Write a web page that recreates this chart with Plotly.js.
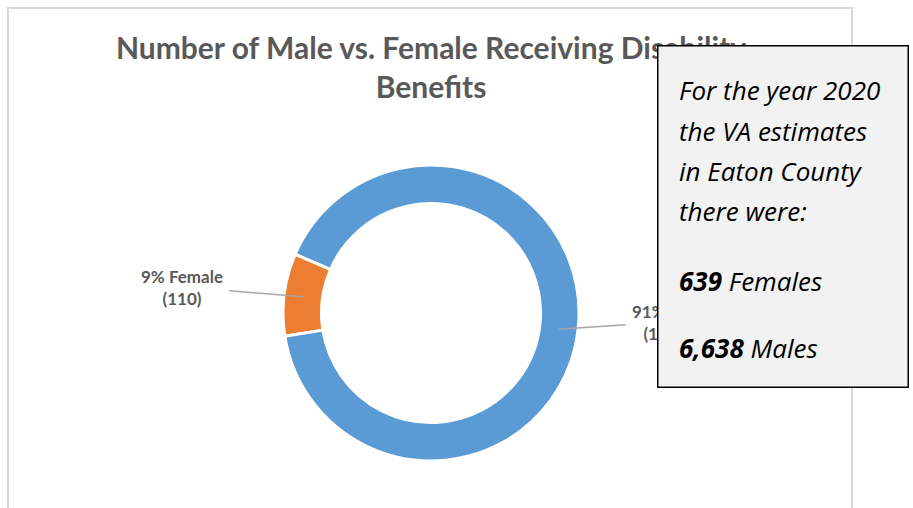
<!DOCTYPE html>
<html>
<head>
<meta charset="utf-8">
<script src="https://cdn.plot.ly/plotly-3.0.1.min.js"></script>
<style>
  html, body { margin: 0; padding: 0; background: #fff; }
  #chart { width: 913px; height: 508px; }
</style>
</head>
<body>
<div id="chart"></div>
<script>
// data
var labels = ["Female", "Male"];
var values = [110, 1112];
var colors = ["#ED7D31", "#5B9BD5"];
var noteYear = "2020";
var noteCounty = "Eaton County";
var noteFemales = "639";
var noteMales = "6,638";

var W = 913, H = 508;
function X(px) { return px / W; }
function Y(py) { return 1 - py / H; }

// donut placement in pixels
var cx = 431, cy = 313, R = 148;
var hole = 0.74;
var rotation = 261;

var total = values.reduce(function (a, b) { return a + b; }, 0);

// point inside each slice for the leader lines, from the values
var pts = [];
var acc = 0;
for (var i = 0; i < values.length; i++) {
  var mid = (rotation + (acc + values[i] / 2) / total * 360) * Math.PI / 180;
  acc += values[i];
  var r = R * (1 + hole) / 2;
  pts.push({ x: cx + r * Math.sin(mid), y: cy - r * Math.cos(mid) });
}

function pct(v) { return Math.round(v / total * 100) + "%"; }
function fmt(v) { return v.toLocaleString("en-US"); }

var labelPos = [{ x: 182, y: 287 }, { x: 670, y: 322 }];

var annotations = [];
for (var j = 0; j < labels.length; j++) {
  annotations.push({
    xref: "paper", yref: "paper",
    x: X(pts[j].x), y: Y(pts[j].y),
    axref: "pixel", ayref: "pixel",
    ax: labelPos[j].x - pts[j].x, ay: labelPos[j].y - pts[j].y,
    text: "<b>" + pct(values[j]) + " " + labels[j] + "</b><br><b>(" + fmt(values[j]) + ")</b>",
    showarrow: true, arrowhead: 0, arrowwidth: 1.5, arrowcolor: "#a6a6a6",
    font: { family: "Lato, sans-serif", size: 17, color: "#595959" },
    align: "center", borderpad: 6
  });
}

// note box covering the right side
annotations.push({
  xref: "paper", yref: "paper", x: X(783), y: Y(216),
  xanchor: "center", yanchor: "middle",
  text: " ", showarrow: false,
  width: 249, height: 340,
  bgcolor: "#f2f2f2", bordercolor: "#000000", borderwidth: 1.5, borderpad: 0
});

var noteLines = [
  { t: "<i>For the year " + noteYear + "</i>", y: 99 },
  { t: "<i>the VA estimates</i>", y: 140 },
  { t: "<i>in " + noteCounty + "</i>", y: 180 },
  { t: "<i>there were:</i>", y: 220 },
  { t: "<i><b>" + noteFemales + "</b> Females</i>", y: 290 },
  { t: "<i><b>" + noteMales + "</b> Males</i>", y: 357 }
];
noteLines.forEach(function (l) {
  annotations.push({
    xref: "paper", yref: "paper", x: X(677), y: Y(l.y - 9),
    xanchor: "left", yanchor: "middle",
    text: l.t, showarrow: false,
    font: { family: "Open Sans, sans-serif", size: 26, color: "#000000" }
  });
});

var data = [{
  type: "pie",
  labels: labels,
  values: values,
  hole: hole,
  sort: false,
  direction: "clockwise",
  rotation: rotation,
  textinfo: "none",
  hoverinfo: "label+value+percent",
  marker: { colors: colors, line: { color: "#ffffff", width: 3 } },
  domain: { x: [X(cx - R), X(cx + R)], y: [Y(cy + R), Y(cy - R)] },
  showlegend: false
}];

var layout = {
  width: W, height: H,
  margin: { l: 0, r: 0, t: 0, b: 0 },
  paper_bgcolor: "#ffffff",
  title: {
    text: "<b>Number of Male vs. Female Receiving Disability<br>Benefits</b>",
    font: { family: "Lato, sans-serif", size: 30, color: "#595959" },
    x: X(431), xanchor: "center",
    y: Y(59), yanchor: "top", yref: "paper"
  },
  shapes: [{
    type: "rect", xref: "paper", yref: "paper",
    x0: X(8), x1: X(852), y0: -0.1, y1: Y(8),
    line: { color: "#d9d9d9", width: 2 },
    fillcolor: "rgba(0,0,0,0)", layer: "below"
  }],
  annotations: annotations
};

Plotly.newPlot("chart", data, layout, { displayModeBar: false, staticPlot: true });
</script>
</body>
</html>
